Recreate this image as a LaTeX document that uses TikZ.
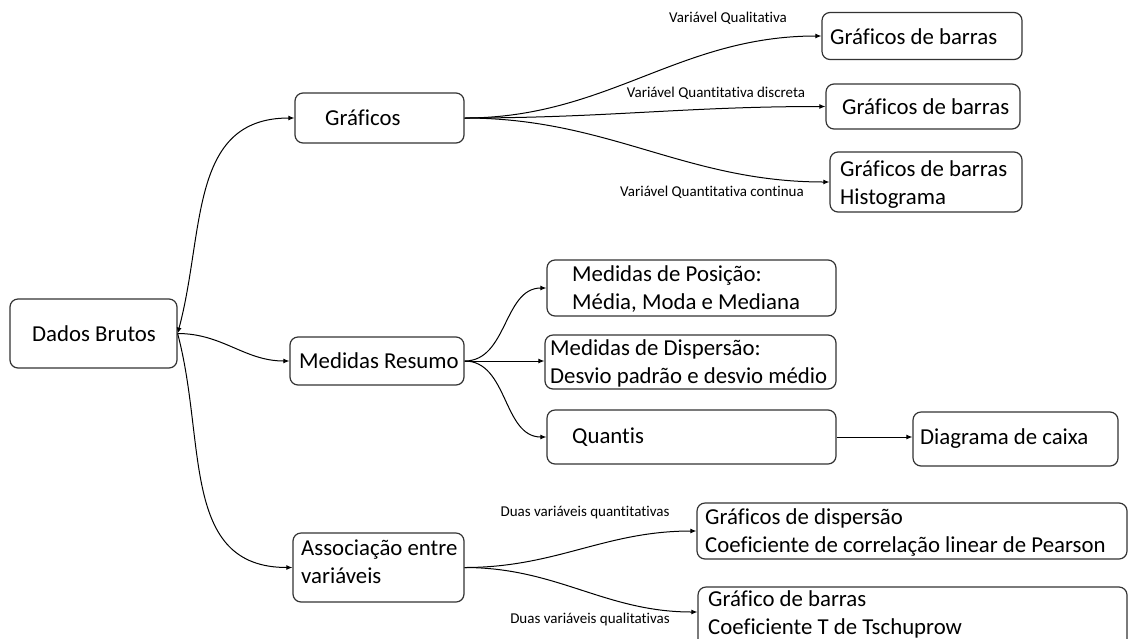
\documentclass[tikz,border=0pt]{standalone}
\usepackage{fontspec}
\setmainfont{Carlito}[Ligatures=NoCommon]
\usetikzlibrary{arrows.meta}
\begin{document}
\begin{tikzpicture}[x=1pt,y=1pt,
  box/.style={draw=black!80, line width=1.2pt, rounded corners=8pt, inner sep=0pt},
  txt/.style={anchor=west, inner sep=0pt, font=\fontsize{22.8}{28}\selectfont, align=left},
  lbl/.style={inner sep=0pt, font=\fontsize{15}{17}\selectfont},
  conn/.style={line width=1pt, -{Latex[length=6pt,width=5pt]}},
  every to/.style={out=0,in=180}]
\useasboundingbox (0,0) rectangle (1131,-638);
% boxes
\node[box, minimum width=167pt, minimum height=69pt] (dados) at (93.5,-333.5) {};
\node[box, minimum width=169pt, minimum height=50pt] (graf) at (379.5,-118) {};
\node[box, minimum width=174pt, minimum height=48pt] (medres) at (377,-361) {};
\node[box, minimum width=171pt, minimum height=69pt] (assoc) at (378.5,-567.5) {};
\node[box, minimum width=200pt, minimum height=47pt] (gb1) at (922,-36) {};
\node[box, minimum width=194pt, minimum height=45pt] (gb2) at (923,-106.5) {};
\node[box, minimum width=192pt, minimum height=60pt] (gb3) at (926,-182) {};
\node[box, minimum width=289pt, minimum height=56pt] (pos) at (691.5,-288) {};
\node[box, minimum width=291pt, minimum height=54pt] (disp) at (690.5,-362) {};
\node[box, minimum width=289pt, minimum height=54pt] (quant) at (691.5,-437) {};
\node[box, minimum width=205pt, minimum height=54pt] (diag) at (1015.5,-439) {};
\node[box, minimum width=430pt, minimum height=56pt] (gdisp) at (912,-531) {};
\node[box, minimum width=429pt, minimum height=62pt] (tsch) at (912.5,-618) {};
% texts
\node[txt] (tdados) at (32,-334) {Dados Brutos};
\node[txt] (tgraf) at (325,-118) {Gráficos};
\node[txt] (tmedres) at (299,-361) {Medidas Resumo};
\node[txt] (tassoc) at (301,-562) {Associação entre\\variáveis};
\node[txt] (tgb1) at (830,-37) {Gráficos de barras};
\node[txt] (tgb2) at (842,-107) {Gráficos de barras};
\node[txt] (tgb3) at (840,-185) {Gráficos de barras\\Histograma};
\node[txt] (tpos) at (572,-289) {Medidas de Posição:\\Média, Moda e Mediana};
\node[txt] (tdisp) at (550,-363) {Medidas de Dispersão:\\Desvio padrão e desvio médio};
\node[txt] (tquant) at (572,-437) {Quantis};
\node[txt] (tdiag) at (920,-439) {Diagrama de caixa};
\node[txt] (tgdisp) at (705,-532) {Gráficos de dispersão\\Coeficiente de correlação linear de Pearson};
\node[txt] (ttsch) at (708,-614) {Gráfico de barras\\Coeficiente T de Tschuprow};
% labels
\node[lbl] (l1) at (728,-18) {Variável Qualitativa};
\node[lbl] (l2) at (716,-93) {Variável Quantitativa discreta};
\node[lbl] (l3) at (712,-192) {Variável Quantitativa continua};
\node[lbl] (l4) at (585,-513) {Duas variáveis quantitativas};
\node[lbl] (l5) at (590,-619) {Duas variáveis qualitativas};
% connectors
\draw[line width=1pt, {Latex[length=6pt,width=5pt]}-{Latex[length=6pt,width=5pt]}]
  (dados.east) to[out=75,in=180,looseness=1.1] (graf.west);
\draw[conn] (dados.east) to (medres.west);
\draw[conn] (dados.east) to[out=-75,in=180,looseness=1.1] (assoc.west);
\draw[conn] (graf.east) to (gb1.west);
\draw[conn] (graf.east) to (gb2.west);
\draw[conn] (graf.east) to (gb3.west);
\draw[conn] (medres.east) to (pos.west);
\draw[conn] (medres.east) -- (disp.west |- medres.east);
\draw[conn] (medres.east) to (quant.west);
\draw[conn] (quant.east) -- (diag.west |- quant.east);
\draw[conn] (assoc.east) to (gdisp.west);
\draw[conn] (assoc.east) to (tsch.west |- 0,-612);
\end{tikzpicture}
\end{document}
